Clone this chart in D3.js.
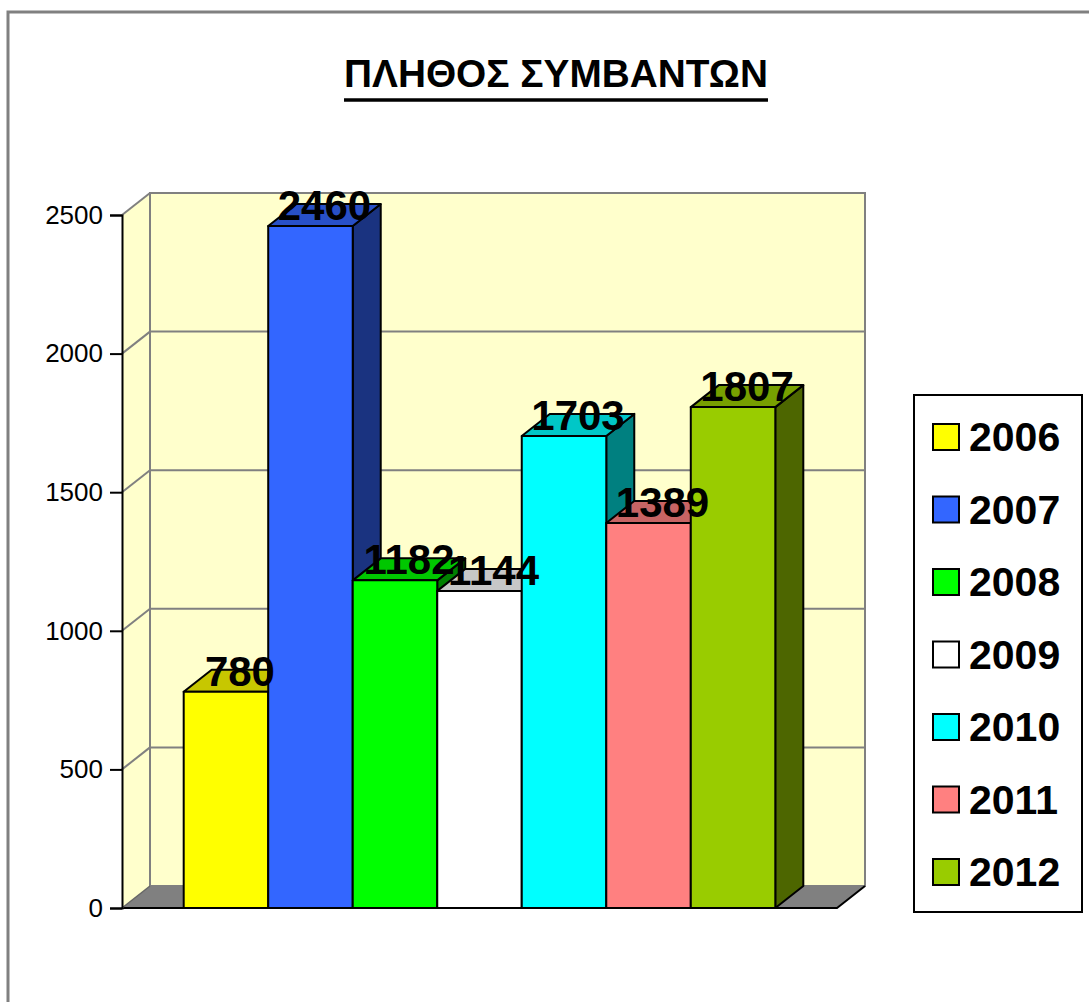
<!DOCTYPE html>
<html>
<head>
<meta charset="utf-8">
<script src="https://cdn.jsdelivr.net/npm/d3@7"></script>
<style>
  body { margin: 0; background: #fff; }
  svg { display: block; font-family: "Liberation Sans", Arial, sans-serif; }
</style>
</head>
<body>
<div id="chart"></div>
<script>
// Data
const years = ['2006', '2007', '2008', '2009', '2010', '2011', '2012'];
const counts = [780, 2460, 1182, 1144, 1703, 1389, 1807];
const barColors = ['#ffff00', '#3366ff', '#00ff00', '#ffffff', '#00ffff', '#ff8080', '#99cc00'];
const yTicks = [0, 500, 1000, 1500, 2000, 2500];
const title = 'ΠΛΗΘΟΣ ΣΥΜΒΑΝΤΩΝ';

const width = 1089;
const height = 1002;

// 3D depth offset
const dx = 28;
const dy = 22;

const svg = d3.select('#chart')
    .append('svg')
    .attr('width', width)
    .attr('height', height);

// outer frame
svg.append('rect')
    .attr('x', 8).attr('y', 12)
    .attr('width', 1200).attr('height', 1200)
    .attr('fill', 'none')
    .attr('stroke', '#808080')
    .attr('stroke-width', 3);

// title, underline drawn by hand so it sits like the original
const titleText = svg.append('text')
    .attr('x', 556).attr('y', 87)
    .attr('text-anchor', 'middle')
    .style('font-size', '38.8px')
    .style('font-weight', 'bold')
    .text(title);
const tb = titleText.node().getBBox();
svg.append('line')
    .attr('x1', tb.x).attr('x2', tb.x + tb.width)
    .attr('y1', 100).attr('y2', 100)
    .attr('stroke', '#000')
    .attr('stroke-width', 3.5);

const y = d3.scaleLinear().domain([0, 2500]).range([908, 215]);
const x = d3.scaleBand().domain(years).range([122, 837])
    .paddingInner(0).paddingOuter(0.73);

const x0 = 122, x1 = 837;
const base = y(0);
const yTop = y(2500);
const shade = (c, k) => {
    const r = d3.rgb(c);
    return d3.rgb(r.r * k, r.g * k, r.b * k).formatHex();
};

// walls
const walls = svg.append('g');
walls.append('polygon')
    .attr('points', [[x0, yTop], [x0 + dx, yTop - dy], [x0 + dx, base - dy], [x0, base]].join(' '))
    .attr('fill', '#ffffcc');
walls.append('rect')
    .attr('x', x0 + dx).attr('y', yTop - dy)
    .attr('width', x1 - x0).attr('height', base - yTop)
    .attr('fill', '#ffffcc')
    .attr('stroke', '#808080')
    .attr('stroke-width', 2);

// gridlines
yTicks.filter(t => t > 0).forEach(t => {
    walls.append('line')
        .attr('x1', x0 + dx).attr('x2', x1 + dx)
        .attr('y1', y(t) - dy).attr('y2', y(t) - dy)
        .attr('stroke', '#808080').attr('stroke-width', 2);
    walls.append('line')
        .attr('x1', x0).attr('x2', x0 + dx)
        .attr('y1', y(t)).attr('y2', y(t) - dy)
        .attr('stroke', '#808080').attr('stroke-width', 2);
});

// floor
walls.append('polygon')
    .attr('points', [[x0, base], [x0 + dx, base - dy], [x1 + dx, base - dy], [x1, base]].join(' '))
    .attr('fill', '#808080');
walls.append('polyline')
    .attr('points', [[x0, base], [x1, base], [x1 + dx, base - dy]].join(' '))
    .attr('fill', 'none')
    .attr('stroke', '#000').attr('stroke-width', 2);
walls.append('line')
    .attr('x1', x0).attr('x2', x0 + dx)
    .attr('y1', base).attr('y2', base - dy)
    .attr('stroke', '#666').attr('stroke-width', 1.5);

// y axis
const axis = svg.append('g')
    .attr('transform', `translate(${x0},0)`)
    .call(d3.axisLeft(y).tickValues(yTicks).tickFormat(d3.format('d'))
        .tickSize(12).tickPadding(7));
axis.select('.domain').attr('stroke', '#000').attr('stroke-width', 2);
axis.selectAll('.tick line').attr('stroke', '#000').attr('stroke-width', 2);
axis.selectAll('.tick text')
    .style('font-size', '26px')
    .style('font-family', '"Liberation Sans", Arial, sans-serif')
    .attr('fill', '#000');

// bars
const bw = x.bandwidth();
const bars = svg.append('g');
years.forEach((yr, i) => {
    const bx = x(yr);
    const yt = y(counts[i]);
    const c = barColors[i];
    const g = bars.append('g')
        .attr('stroke', '#000')
        .attr('stroke-width', 2)
        .attr('stroke-linejoin', 'round');
    g.append('polygon')
        .attr('points', [[bx + bw, yt], [bx + bw + dx, yt - dy], [bx + bw + dx, base - dy], [bx + bw, base]].join(' '))
        .attr('fill', shade(c, 0.5));
    g.append('polygon')
        .attr('points', [[bx, yt], [bx + bw, yt], [bx + bw + dx, yt - dy], [bx + dx, yt - dy]].join(' '))
        .attr('fill', shade(c, 0.78));
    g.append('rect')
        .attr('x', bx).attr('y', yt)
        .attr('width', bw).attr('height', base - yt)
        .attr('fill', c);
});

// value labels
svg.append('g')
    .selectAll('text')
    .data(years)
    .join('text')
    .attr('x', d => x(d) + bw / 2 + dx / 2)
    .attr('y', (d, i) => y(counts[i]) - dy / 2 + 5)
    .attr('text-anchor', 'middle')
    .style('font-size', '42px')
    .style('font-weight', 'bold')
    .text((d, i) => counts[i]);

// legend
const legend = svg.append('g');
legend.append('rect')
    .attr('x', 914).attr('y', 395)
    .attr('width', 168).attr('height', 517)
    .attr('fill', '#fff')
    .attr('stroke', '#000')
    .attr('stroke-width', 2);

const items = legend.selectAll('.item')
    .data(years)
    .join('g')
    .attr('class', 'item')
    .attr('transform', (d, i) => `translate(0, ${437 + i * 72.5})`);

items.append('rect')
    .attr('x', 933).attr('y', -13)
    .attr('width', 26).attr('height', 26)
    .attr('fill', (d, i) => barColors[i])
    .attr('stroke', '#000')
    .attr('stroke-width', 2);

items.append('text')
    .attr('x', 969).attr('y', 14)
    .style('font-size', '41px')
    .style('font-weight', 'bold')
    .text(d => d);
</script>
</body>
</html>
